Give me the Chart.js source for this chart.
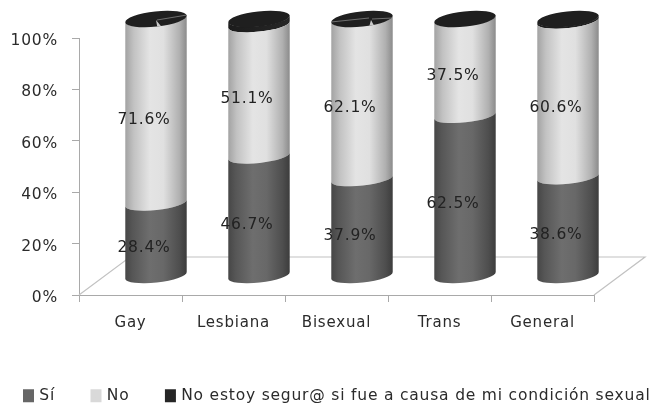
<!DOCTYPE html>
<html><head><meta charset="utf-8">
<style>html,body{margin:0;padding:0;background:#fff}canvas{display:block;filter:blur(0.45px)}</style>
<script src="https://cdn.jsdelivr.net/npm/chart.js@4/dist/chart.umd.js"></script>
</head><body>
<canvas id="c" width="652" height="403"></canvas>
<script>
const categories = ['Gay','Lesbiana','Bisexual','Trans','General'];
const seriesNames = ['Sí','No','No estoy segur@ si fue a causa de mi condición sexual'];
const si = [28.4,46.7,37.9,62.5,38.6];
const no = [71.6,51.1,62.1,37.5,60.6];
const noSeguro = [0,2.2,0,0,0.8];
const yTicks = [0,20,40,60,80,100];
const FONT = '"DejaVu Sans"';
const TEXT = '#2b2b2b', AXIS = '#a9a9a9', FLOOR = '#c2c2c2';
const DX = 25.5, DY = -19, DEPTH_X = 51, DEPTH_Y = 38, ROT = -0.11, RB = 7;
const ramps = [
  [[0,'#464646'],[0.12,'#565656'],[0.4,'#6e6e6e'],[0.62,'#686868'],[0.88,'#4e4e4e'],[1,'#3c3c3c']],
  [[0,'#a2a2a2'],[0.14,'#c2c2c2'],[0.4,'#e4e4e4'],[0.62,'#e0e0e0'],[0.88,'#b0b0b0'],[1,'#8a8a8a']],
  [[0,'#1c1c1c'],[1,'#262626']]
];
const fills = ['#666666','#d9d9d9','#262626'];
function sideFill(ctx, el, idx){
  const g = ctx.createLinearGradient(el.x-el.width/2,0,el.x+el.width/2,0);
  ramps[idx].forEach(s=>g.addColorStop(s[0],s[1]));
  return g;
}
const cylinders = {
  id:'cylinders',
  beforeUpdate(chart){ chart.ctx.letterSpacing = '0.8px'; },
  beforeDraw(chart){ chart.ctx.letterSpacing = '0.8px'; },
  beforeLayout(chart){
    const lg = chart.legend;
    if(!lg._wide){
      const u = lg.update;
      lg.update = function(w,h,m){ return u.call(this,Math.max(w,760),h,m); };
      lg._wide = true;
    }
  },
  afterDatasetsUpdate(chart){
    chart.data.datasets.forEach((d,i)=>{
      chart.getDatasetMeta(i).data.forEach(el=>{
        el.draw = function(ctx){
          if(Math.abs(el.base-el.y)<0.01) return;
          const a = el.width/2;
          ctx.save();
          ctx.beginPath();
          ctx.ellipse(el.x,el.base,a,RB,ROT,Math.PI,0,true);
          ctx.ellipse(el.x,el.y,a,RB,ROT,0,Math.PI,false);
          ctx.closePath();
          ctx.fillStyle = sideFill(ctx,el,i);
          ctx.fill();
          ctx.restore();
        };
      });
    });
  },
  beforeDatasetsDraw(chart){
    const {ctx,scales:{x,y}} = chart;
    const y0 = y.getPixelForValue(0);
    ctx.save();
    ctx.strokeStyle = FLOOR; ctx.lineWidth = 1.2;
    ctx.beginPath();
    ctx.moveTo(x.left,y0);
    ctx.lineTo(x.left+DEPTH_X,y0-DEPTH_Y);
    ctx.lineTo(x.right+DEPTH_X,y0-DEPTH_Y);
    ctx.lineTo(x.right,y0);
    ctx.stroke();
    ctx.restore();
    ctx.save();
    ctx.translate(DX,DY);
  },
  afterDatasetsDraw(chart){
    const {ctx,scales:{y}} = chart;
    const top = y.getPixelForValue(100);
    chart.getDatasetMeta(0).data.forEach((el,k)=>{
      const a = el.width/2;
      ctx.beginPath();
      ctx.ellipse(el.x,top,a,RB+0.6,ROT,0,Math.PI*2);
      ctx.fillStyle = '#1f1f1f';
      ctx.fill();
      if(noSeguro[k]===0 && (k===0||k===2)){
        ctx.save();
        ctx.clip();
        ctx.fillStyle = '#c9c9c9';
        ctx.beginPath();
        ctx.moveTo(el.x+(k===0?0:9),top+1);
        ctx.lineTo(el.x+(k===0?2:6),top+12);
        ctx.lineTo(el.x+(k===0?9:15),top+12);
        ctx.closePath();
        ctx.fill();
        ctx.strokeStyle = '#6f6f6f'; ctx.lineWidth = 1;
        ctx.beginPath();
        if(k===0){ ctx.moveTo(el.x+1,top+1); ctx.lineTo(el.x+a,top-4); }
        else { ctx.moveTo(el.x+7,top-1); ctx.lineTo(el.x-a,top+3);
               ctx.moveTo(el.x+10,top); ctx.lineTo(el.x+a,top-1); }
        ctx.stroke();
        ctx.restore();
      }
    });
    ctx.restore();
    ctx.save();
    ctx.font = '15.5px '+FONT;
    ctx.fillStyle = '#222';
    ctx.textAlign = 'center';
    ctx.textBaseline = 'middle';
    [si,no].forEach((vals,i)=>{
      chart.getDatasetMeta(i).data.forEach((el,k)=>{
        ctx.fillText(vals[k].toFixed(1)+'%', el.x+13.5, (el.y+el.base)/2-10);
      });
    });
    ctx.restore();
  },
  afterLayout(chart){
    chart.legend.left = -12.5;
    chart.legend.right = 900;
    chart.legend.top = 350;
  }
};
const data = [si,no,noSeguro];
new Chart(document.getElementById('c'),{
  type:'bar',
  data:{
    labels:categories,
    datasets:seriesNames.map((n,i)=>({
      label:n,data:data[i],backgroundColor:fills[i],borderWidth:0,clip:false,
      categoryPercentage:1,barPercentage:0.6,yAxisID:'y',xAxisID:'x'
    }))
  },
  options:{
    responsive:false,animation:false,
    layout:{padding:{top:38,left:0,right:0,bottom:0}},
    plugins:{
      tooltip:{enabled:false},
      legend:{
        position:'bottom',align:'start',
        labels:{
          font:{family:FONT,size:15.5},color:TEXT,padding:38,boxWidth:6,boxHeight:8,
          generateLabels(chart){
            return chart.data.datasets.map((d,i)=>({
              text:d.label,fillStyle:fills[i],strokeStyle:fills[i],lineWidth:5,datasetIndex:i,fontColor:TEXT
            }));
          }
        }
      }
    },
    scales:{
      x:{
        stacked:true,
        grid:{drawOnChartArea:false,color:AXIS,tickLength:7,offset:true},
        border:{color:AXIS},
        ticks:{font:{family:FONT,size:15},color:TEXT,padding:12,maxRotation:0},
        afterFit(s){ s.height = 403-295-s.chart.legend.height; }
      },
      y:{
        stacked:true,min:0,max:100,
        afterBuildTicks(s){ s.ticks = yTicks.map(v=>({value:v})); },
        grid:{drawOnChartArea:false,color:AXIS,tickLength:7},
        border:{color:AXIS},
        ticks:{font:{family:FONT,size:15.5},color:TEXT,padding:14,labelOffset:3,callback:v=>v+'%'},
        afterFit(s){ s.width = 79; }
      },
      spacer:{
        position:'right',display:true,min:0,max:100,
        grid:{display:false},border:{display:false},ticks:{display:false},
        afterFit(s){ s.width = 58; }
      }
    }
  },
  plugins:[cylinders]
});
</script>
</body></html>
